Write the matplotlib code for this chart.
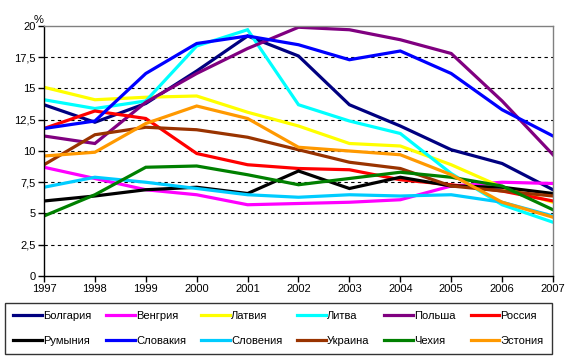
import matplotlib.pyplot as plt

plt.rcParams['font.family'] = ['Liberation Sans', 'DejaVu Sans']

years = list(range(1997, 2008))
countries = ['Болгария', 'Венгрия', 'Латвия', 'Литва', 'Польша', 'Россия',
             'Румыния', 'Словакия', 'Словения', 'Украина', 'Чехия', 'Эстония']
colors = ['#000080', '#FF00FF', '#FFFF00', '#00FFFF', '#800080', '#FF0000',
          '#000000', '#0000FF', '#00CCFF', '#993300', '#008000', '#FF9900']

bulgaria = [13.7, 12.3, 13.8, 16.4, 19.2, 17.6, 13.7, 12.0, 10.1, 9.0, 6.9]
hungary = [8.7, 7.8, 6.9, 6.5, 5.7, 5.8, 5.9, 6.1, 7.2, 7.5, 7.4]
latvia = [15.1, 14.1, 14.3, 14.4, 13.1, 12.0, 10.6, 10.4, 8.9, 7.1, 5.9]
lithuania = [14.1, 13.4, 14.0, 18.4, 19.7, 13.7, 12.4, 11.4, 8.2, 5.7, 4.3]
poland = [11.2, 10.6, 13.9, 16.2, 18.2, 19.9, 19.7, 18.9, 17.8, 14.0, 9.7]
russia = [11.8, 13.2, 12.6, 9.8, 8.9, 8.6, 8.5, 7.7, 7.3, 6.8, 6.0]
romania = [6.0, 6.4, 6.9, 7.1, 6.6, 8.4, 7.0, 7.9, 7.2, 7.1, 6.6]
slovakia = [11.8, 12.4, 16.2, 18.6, 19.2, 18.5, 17.3, 18.0, 16.2, 13.3, 11.2]
slovenia = [7.1, 7.9, 7.5, 7.0, 6.5, 6.3, 6.5, 6.4, 6.5, 5.9, 4.8]
ukraine = [8.9, 11.3, 11.9, 11.7, 11.1, 10.1, 9.1, 8.6, 7.2, 6.8, 6.4]
czech = [4.8, 6.5, 8.7, 8.8, 8.1, 7.3, 7.8, 8.3, 7.9, 7.2, 5.3]
estonia = [9.6, 9.9, 12.2, 13.6, 12.6, 10.3, 10.0, 9.7, 8.1, 5.9, 4.7]

series = [bulgaria, hungary, latvia, lithuania, poland, russia,
          romania, slovakia, slovenia, ukraine, czech, estonia]

fig = plt.figure(figsize=(5.72, 3.59), dpi=100)
ax = fig.add_axes([0.0769, 0.2312, 0.8899, 0.6964])

lines = []
for name, vals, c in zip(countries, series, colors):
    ln, = ax.plot(years, vals, color=c, lw=2.3, label=name, solid_joinstyle='miter')
    lines.append(ln)

ax.set_xlim(1997, 2007)
ax.set_ylim(0, 20)
ax.set_xticks(years)
ax.set_yticks([0, 2.5, 5, 7.5, 10, 12.5, 15, 17.5, 20])
ax.set_yticklabels(['0', '2,5', '5', '7,5', '10', '12,5', '15', '17,5', '20'])
for y in [2.5, 5, 7.5, 10, 12.5, 15, 17.5]:
    ax.axhline(y, color='black', lw=0.8, ls=(0, (3, 3)), zorder=0)

ax.tick_params(direction='out', length=4, width=1, labelsize=8, pad=2)
for s in ['left', 'bottom']:
    ax.spines[s].set_color('black')
    ax.spines[s].set_linewidth(1)
for s in ['top', 'right']:
    ax.spines[s].set_color('#808080')
    ax.spines[s].set_linewidth(1)

ax.text(-0.01, 1.005, '%', transform=ax.transAxes, fontsize=8, ha='center', va='bottom')

# legend fills column-wise, reorder so rows read like the original
order = [0, 6, 1, 7, 2, 8, 3, 9, 4, 10, 5, 11]
leg = fig.legend([lines[i] for i in order], [countries[i] for i in order],
                 ncol=6, loc='lower left', bbox_to_anchor=(0.009, 0.013, 0.956, 0.145),
                 mode='expand', fancybox=False, edgecolor='black', fontsize=8,
                 handlelength=2.6, handletextpad=0.1, columnspacing=0.8,
                 borderaxespad=0, borderpad=0.75, labelspacing=1.35)
leg.get_frame().set_linewidth(1)

fig.savefig('out.png', dpi=100)
